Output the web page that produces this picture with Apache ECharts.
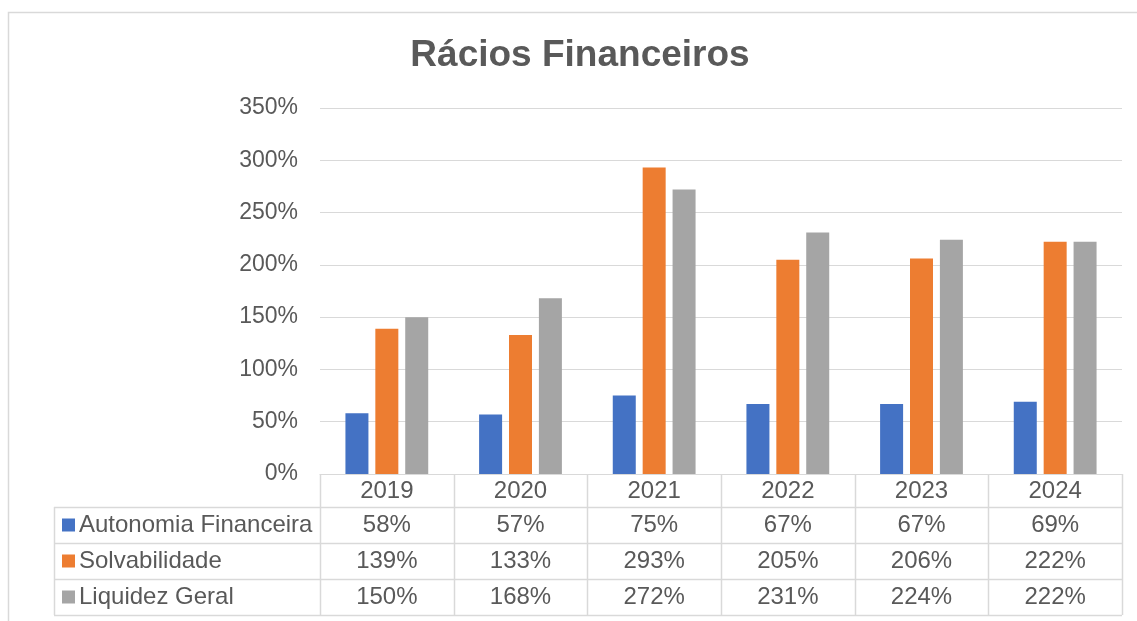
<!DOCTYPE html>
<html>
<head>
<meta charset="utf-8">
<script src="https://cdn.jsdelivr.net/npm/echarts@6/dist/echarts.min.js"></script>
<style>
html,body{margin:0;padding:0;background:#fff;}
#chart{width:1137px;height:621px;}
</style>
</head>
<body>
<div id="chart"></div>
<script>
const categories = ['2019', '2020', '2021', '2022', '2023', '2024'];
const seriesNames = ['Autonomia Financeira', 'Solvabilidade', 'Liquidez Geral'];
const autonomia = [58, 57, 75, 67, 67, 69];
const solvabilidade = [139, 133, 293, 205, 206, 222];
const liquidez = [150, 168, 272, 231, 224, 222];
const colors = ['#4472C4', '#ED7D31', '#A5A5A5'];
const titleText = 'Rácios Financeiros';

const FONT = '"Liberation Sans", Arial, sans-serif';
const TXT = '#595959';
const LINE = '#d9d9d9';

const chart = echarts.init(document.getElementById('chart'), null, {renderer: 'canvas'});
const allSeries = [autonomia, solvabilidade, liquidez];

chart.setOption({
  animation: false,
  textStyle: {fontFamily: FONT},
  grid: {left: 320, right: 15, top: 108, bottom: 147, containLabel: false},
  xAxis: {
    type: 'category',
    data: categories,
    axisLine: {show: true, lineStyle: {color: LINE, width: 1}},
    axisTick: {show: false},
    axisLabel: {color: TXT, fontSize: 24, fontFamily: FONT, margin: 5}
  },
  yAxis: {
    type: 'value',
    min: 0, max: 350, interval: 50,
    axisLine: {show: false},
    axisTick: {show: false},
    axisLabel: {color: TXT, fontSize: 23, fontFamily: FONT, margin: 22, formatter: '{value}%'},
    splitLine: {lineStyle: {color: LINE, width: 1}}
  },
  series: allSeries.map((d, i) => ({
    name: seriesNames[i],
    type: 'bar',
    data: d,
    barWidth: 23,
    barGap: '30%',
    itemStyle: {color: colors[i]}
  }))
});

// Build frame, title and data table from axis scales
const g = [];
g.push({type: 'rect', shape: {x: 8.5, y: 12.5, width: 1200, height: 700},
  style: {fill: 'none', stroke: LINE, lineWidth: 1.5}, silent: true, z: -1});
g.push({type: 'text', x: 580, y: 56,
  style: {text: titleText, fill: TXT, font: 'bold 37px ' + FONT, textAlign: 'center', textVerticalAlign: 'middle'}});

const c0 = chart.convertToPixel({xAxisIndex: 0}, 0);
const c1 = chart.convertToPixel({xAxisIndex: 0}, 1);
const band = c1 - c0;
const plotLeft = c0 - band / 2;
const plotRight = plotLeft + band * categories.length;
const tableTop = chart.convertToPixel({yAxisIndex: 0}, 0);
const headerH = 33, rowH = 36;
const legendLeft = 54;
const rowTops = [tableTop + headerH];
for (let r = 1; r <= seriesNames.length; r++) rowTops.push(tableTop + headerH + rowH * r);
const tableBottom = rowTops[rowTops.length - 1];
const ln = (x1, y1, x2, y2) => g.push({type: 'line', shape: {x1, y1, x2, y2},
  style: {stroke: LINE, lineWidth: 1.5}, silent: true});

// horizontal lines
rowTops.forEach(y => ln(legendLeft, Math.round(y) + 0.5, plotRight, Math.round(y) + 0.5));
// vertical lines
ln(legendLeft + 0.5, rowTops[0], legendLeft + 0.5, tableBottom);
for (let k = 0; k <= categories.length; k++) {
  const x = Math.round(plotLeft + band * k) + 0.5;
  ln(x, tableTop, x, tableBottom);
}
// rows
seriesNames.forEach((name, r) => {
  const cy = rowTops[r] + rowH / 2;
  g.push({type: 'rect', shape: {x: 62, y: cy - 6.5, width: 13, height: 13}, style: {fill: colors[r]}});
  g.push({type: 'text', x: 79, y: cy,
    style: {text: name, fill: TXT, font: '24px ' + FONT, textAlign: 'left', textVerticalAlign: 'middle'}});
  allSeries[r].forEach((v, i) => {
    const cx = chart.convertToPixel({xAxisIndex: 0}, i);
    g.push({type: 'text', x: cx, y: cy,
      style: {text: v + '%', fill: TXT, font: '24px ' + FONT, textAlign: 'center', textVerticalAlign: 'middle'}});
  });
});

chart.setOption({graphic: {elements: g}});
</script>
</body>
</html>
